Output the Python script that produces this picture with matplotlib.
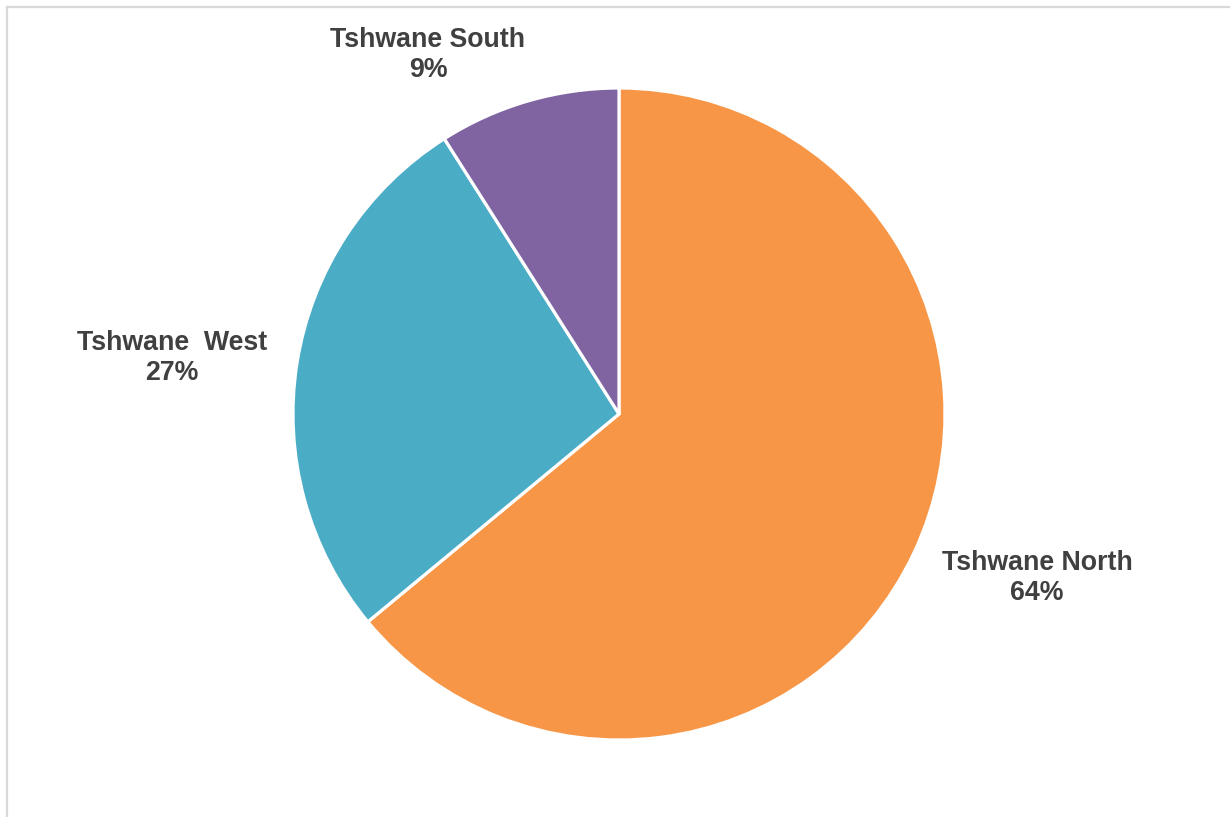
import matplotlib
matplotlib.use("Agg")
import matplotlib.pyplot as plt

regions = ["Tshwane North", "Tshwane  West", "Tshwane South"]
shares = [64, 27, 9]
colors = ["#F79646", "#4BACC6", "#8064A2"]

# label anchor points, in pixel units of the canvas
label_xy = [(1037, 578), (172, 358), (428, 55)]

W, H = 1230, 817
fig = plt.figure(figsize=(W / 100, H / 100), dpi=100)
ax = fig.add_axes([0, 0, 1, 1])

# flipped y axis: counterclock=True draws clockwise on screen, so start at -90 (top)
wedges, _ = ax.pie(shares, colors=colors, startangle=-90, counterclock=True,
                   center=(619, 414), radius=326, frame=True,
                   wedgeprops=dict(edgecolor="white", linewidth=2.3))
ax.set_xlim(0, W)
ax.set_ylim(H, 0)
ax.set_aspect("equal")
ax.axis("off")

for name, val, (x, y) in zip(regions, shares, label_xy):
    ax.text(x, y, f"{name}\n{val}%", ha="center", va="center",
            fontsize=19.3, fontweight="bold", family="Liberation Sans",
            color="#404040", linespacing=1.2)

# thin grey frame along the top and left edges
ax.plot([6.5, W], [7, 7], color="#D9D9D9", lw=1.6, clip_on=False)
ax.plot([7, 7], [7, H], color="#D9D9D9", lw=1.6, clip_on=False)

fig.savefig("out.png", dpi=100)
